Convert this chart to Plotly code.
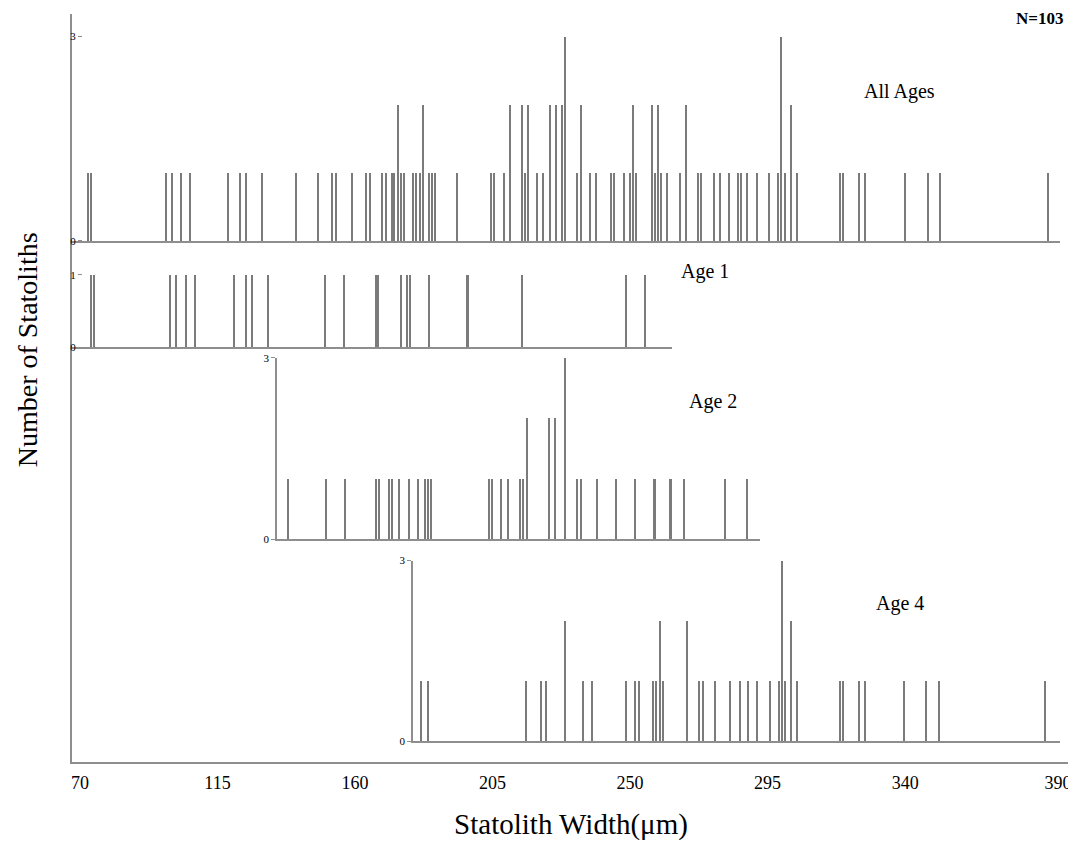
import plotly.graph_objects as go

# ---------------- data (statolith width in µm, count per width) ----------------
all_width = [72.85, 73.83, 98.14, 100.10, 103.15, 106.22, 118.43, 122.35, 124.32, 129.55,
             140.68, 147.87, 152.68, 153.76, 159.00, 163.81, 164.89, 169.04, 170.12, 172.09,
             172.97, 174.15, 175.26, 176.24, 179.06, 180.17, 181.25, 182.23, 184.29, 185.40,
             186.39, 193.45, 204.58, 205.56, 208.73, 210.70, 214.72, 215.70, 216.68, 219.63,
             221.72, 223.78, 225.75, 227.81, 228.79, 232.85, 233.93, 236.87, 238.93, 243.97,
             244.95, 248.00, 250.06, 251.04, 252.15, 257.16, 258.24, 259.22, 260.33, 262.30,
             266.32, 268.38, 272.44, 273.42, 277.44, 279.51, 282.58, 285.53, 286.51, 288.47,
             291.51, 295.54, 298.61, 299.59, 300.67, 302.73, 304.70, 318.77, 319.88, 324.99,
             327.08, 340.17, 347.47, 351.39, 386.96]
all_count = [1, 1, 1, 1, 1, 1, 1, 1, 1, 1,
             1, 1, 1, 1, 1, 1, 1, 1, 1, 1,
             1, 2, 1, 1, 1, 1, 1, 2, 1, 1,
             1, 1, 1, 1, 1, 2, 2, 1, 2, 1,
             1, 2, 2, 2, 3, 1, 2, 1, 1, 1,
             1, 1, 1, 2, 1, 2, 1, 2, 1, 1,
             1, 2, 1, 1, 1, 1, 1, 1, 1, 1,
             1, 1, 1, 3, 1, 2, 1, 1, 1, 1,
             1, 1, 1, 1, 1]

age1_width = [72.85, 73.87, 98.15, 100.20, 103.33, 106.37, 118.66, 122.56, 124.61, 129.66,
              147.86, 153.94, 164.18, 164.94, 172.14, 174.19, 175.05, 181.26, 193.42, 210.72,
              244.12, 250.20]
age1_count = [1] * len(age1_width)

age2_width = [140.72, 152.81, 158.85, 168.93, 169.89, 173.07, 174.02, 176.12, 179.20, 182.16,
              184.29, 185.25, 186.20, 204.64, 205.60, 208.68, 210.69, 214.72, 215.68, 216.73,
              223.82, 225.85, 228.81, 232.85, 233.90, 239.08, 245.13, 251.29, 257.34, 262.43,
              266.65, 279.69, 286.78]
age2_count = [1, 1, 1, 1, 1, 1, 1, 1, 1, 1,
              1, 1, 1, 1, 1, 1, 1, 1, 1, 2,
              2, 2, 3, 1, 1, 1, 1, 1, 1, 1,
              1, 1, 1]

age4_width = [181.81, 183.97, 215.94, 220.85, 222.72, 228.81, 234.82, 237.77, 248.90, 251.84,
              252.92, 257.73, 258.71, 259.79, 261.00, 268.85, 272.78, 273.86, 277.89, 282.93,
              285.97, 288.82, 291.76, 295.88, 298.96, 299.81, 300.92, 302.89, 304.85, 318.78,
              319.76, 324.90, 326.96, 339.86, 347.06, 351.09, 385.87]
age4_count = [1, 1, 1, 1, 1, 2, 1, 1, 1, 1,
              1, 1, 1, 2, 1, 2, 1, 1, 1, 1,
              1, 1, 1, 1, 1, 3, 1, 2, 1, 1,
              1, 1, 1, 1, 1, 1, 1]

x_ticks = [70, 115, 160, 205, 250, 295, 340, 390]
panel_labels = ["All Ages", "Age 1", "Age 2", "Age 4"]
n_label = "N=103"
x_title = "Statolith Width(μm)"
y_title = "Number of Statoliths"

# ---------------- style / geometry ----------------
SERIF = "Liberation Serif, Times New Roman, serif"
BAR = "#7b7b7b"
LINE = "#8e8e8e"

OFF = 8                    # page body margin of the html page
W, H = 1076 - OFF, 842 - OFF
L, R, T, B = 72 - OFF, 6, 0, 80
pw, ph = W - L - R, H - T - B


def px_x(p):
    """page pixel x -> paper fraction"""
    return (p - OFF - L) / pw


def px_y(p):
    """page pixel y -> paper fraction"""
    return (H + OFF - B - p) / ph


fig = go.Figure()

panels = [
    (all_width, all_count, "x2", "y2"),
    (age1_width, age1_count, "x3", "y3"),
    (age2_width, age2_count, "x4", "y4"),
    (age4_width, age4_count, "x5", "y5"),
]
for w, c, xa, ya in panels:
    fig.add_trace(go.Bar(x=w, y=c, width=0.5, xaxis=xa, yaxis=ya,
                         marker=dict(color=BAR, line=dict(width=0)),
                         showlegend=False, hoverinfo="x+y"))

# invisible trace carrying the main (shared) axes
fig.add_trace(go.Scatter(x=[x_ticks[0], x_ticks[-1]], y=[0, 0], mode="markers",
                         marker=dict(opacity=0), showlegend=False, hoverinfo="skip"))

sub_x = dict(showgrid=False, zeroline=False, showticklabels=False, ticks="",
             showline=True, linecolor=LINE, linewidth=1.5)
sub_y = dict(showgrid=False, zeroline=False, ticks="outside", ticklen=4,
             tickcolor=LINE, tickwidth=1,
             tickfont=dict(family=SERIF, size=11, color="black"))

fig.update_layout(
    width=W, height=H, autosize=False,
    margin=dict(l=L, r=R, t=T, b=B),
    paper_bgcolor="white", plot_bgcolor="white",
    bargap=0, barmode="overlay",
    font=dict(family=SERIF, color="black"),
    xaxis=dict(range=[67.38, 393.95], tickvals=x_ticks, ticks="", showgrid=False,
               zeroline=False, showline=True, linecolor=LINE, linewidth=1.5,
               tickfont=dict(family=SERIF, size=18), ticklabelstandoff=4,
               title=dict(text=x_title, font=dict(family=SERIF, size=29),
                          standoff=21)),
    yaxis=dict(range=[0, 1], showticklabels=False, ticks="", showgrid=False,
               zeroline=False, showline=True, linecolor=LINE, linewidth=1.5),
    # All Ages
    xaxis2=dict(sub_x, domain=[px_x(72), px_x(1060)], range=[67.38, 390.68], anchor="y2"),
    yaxis2=dict(sub_y, domain=[px_y(236.7), px_y(30.7)], range=[0, 3], tickvals=[0, 3],
                showline=False, anchor="free", position=px_x(82)),
    # Age 1
    xaxis3=dict(sub_x, domain=[px_x(72), px_x(672)], range=[66.83, 258.77], anchor="y3"),
    yaxis3=dict(sub_y, domain=[px_y(344), px_y(271)], range=[0, 1], tickvals=[0, 1],
                showline=False, anchor="free", position=px_x(82)),
    # Age 2
    xaxis4=dict(sub_x, domain=[px_x(277), px_x(760)], range=[137.23, 290.82], anchor="y4"),
    yaxis4=dict(sub_y, domain=[px_y(537.3), px_y(354.7)], range=[0, 3], tickvals=[0, 3],
                showline=True, linecolor=LINE, linewidth=1.5, anchor="x4"),
    # Age 4
    xaxis5=dict(sub_x, domain=[px_x(413), px_x(1060)], range=[178.97, 390.68], anchor="y5"),
    yaxis5=dict(sub_y, domain=[px_y(741), px_y(559)], range=[0, 3], tickvals=[0, 3],
                showline=True, linecolor=LINE, linewidth=1.5, anchor="x5"),
)

label_pos = [(899.5, 86), (705, 268), (712.5, 399), (900, 602)]
for text, (px, py) in zip(panel_labels, label_pos):
    fig.add_annotation(text=text, x=px_x(px), y=px_y(py), xref="paper", yref="paper",
                       showarrow=False, xanchor="center", yanchor="middle",
                       font=dict(family=SERIF, size=20, color="black"))
fig.add_annotation(text="<b>" + n_label + "</b>", x=px_x(1039), y=px_y(13),
                   xref="paper", yref="paper", showarrow=False,
                   xanchor="center", yanchor="middle",
                   font=dict(family=SERIF, size=17, color="black"))
fig.add_annotation(text=y_title, x=px_x(27), y=px_y(347), xref="paper", yref="paper",
                   showarrow=False, textangle=-90, xanchor="center", yanchor="middle",
                   font=dict(family=SERIF, size=28, color="black"))

fig.write_html("out.html")
